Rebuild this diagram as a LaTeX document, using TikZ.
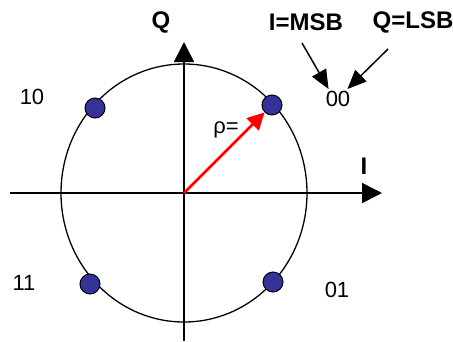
\documentclass[tikz,border=0pt]{standalone}
\usepackage{fontspec}
\setmainfont{Liberation Sans}
\usepackage{xcolor}
\definecolor{DotBlue}{RGB}{51,51,153}
\usetikzlibrary{positioning,arrows.meta}

\begin{document}
\begin{tikzpicture}[x=1pt, y=-1pt,
    axis/.style={line width=1.6pt, -{Triangle[length=20pt, width=20pt]}},
    dot/.style={circle, draw=black, fill=DotBlue, line width=1pt,
                minimum size=20pt, inner sep=0pt},
    lbl/.style={font=\fontsize{22}{25}\selectfont, inner sep=0pt},
    blbl/.style={font=\fontsize{24}{27}\selectfont\bfseries, inner sep=0pt},
    pointer/.style={line width=1.5pt, -{Triangle[length=19pt, width=16pt]}},
    radius/.style={red, line width=2.8pt, -{Triangle[length=17pt, width=17pt]}}
]
    \useasboundingbox (0,0) rectangle (453,341);
    \coordinate (O) at (184,193);
    \coordinate (west) at (10,193);
    \coordinate (east) at (382,193);
    \coordinate (south) at (184,341);
    \coordinate (north) at (184,42);

    \draw[line width=1.3pt] (O) ellipse [x radius=123, y radius=129];
    \draw[axis] (west) -- (east);
    \draw[axis] (south) -- (north);

    \node[dot] (s00) at (272,105) {};
    \node[dot] (s10) at (95,108) {};
    \node[dot] (s11) at (90,284) {};
    \node[dot] (s01) at (273,282) {};

    \draw[radius] (O) -- (s00);

    \node[blbl] (qlab) at (161,22) {Q};
    \node[blbl] (ilab) at (364,166) {I};
    \node[blbl] (msb) at (306,22) {I=MSB};
    \node[blbl] (lsb) at (413,22) {Q=LSB};
    \node[lbl] (rho) at (226,130) {ρ=};

    \node[lbl] (l00) at (338,99) {00};
    \node[lbl] (l10) at (32,97) {10};
    \node[lbl] (l11) at (24,283) {11};
    \node[lbl] (l01) at (337,290) {01};

    \coordinate (msbtail) at (302,43);
    \coordinate (lsbtail) at (388,49);
    \draw[pointer] (msbtail) -- ([xshift=3pt, yshift=2pt]l00.north west);
    \draw[pointer] (lsbtail) -- ([xshift=-3pt, yshift=2pt]l00.north east);
\end{tikzpicture}
\end{document}
